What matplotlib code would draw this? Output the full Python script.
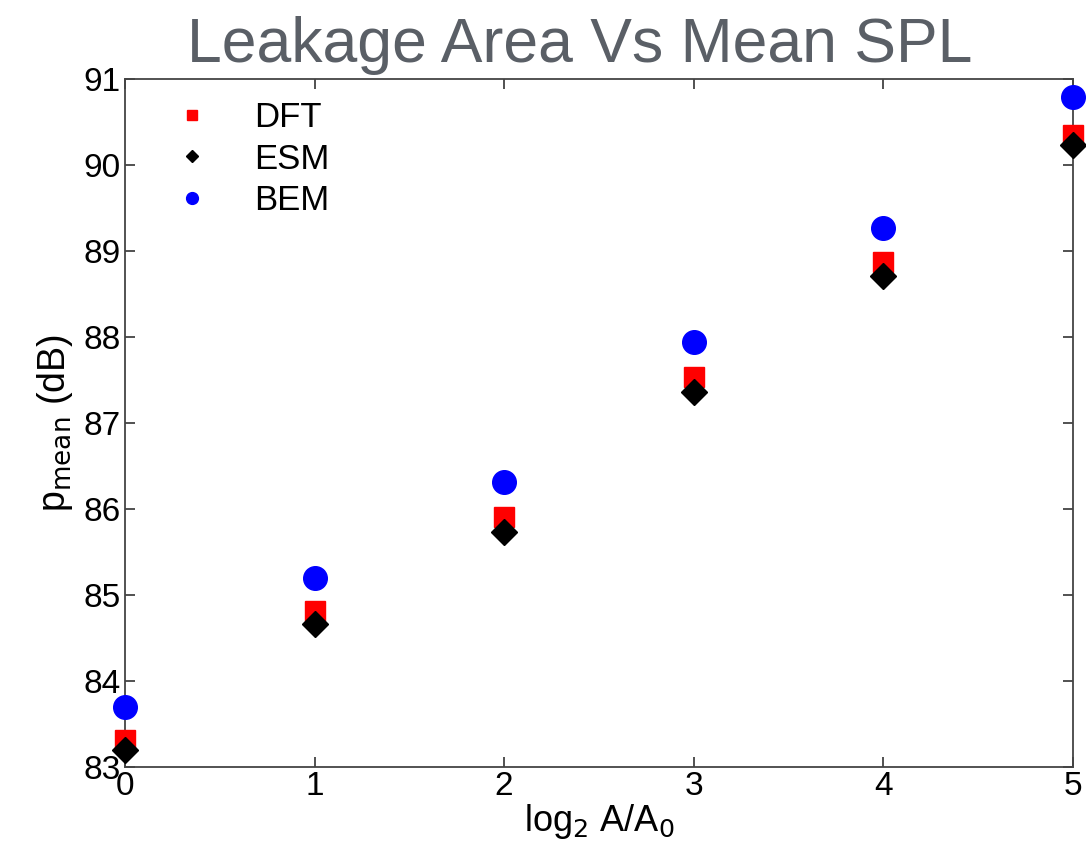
import matplotlib.pyplot as plt

plt.rcParams["font.family"] = ["Liberation Sans", "DejaVu Sans"]

x = [0, 1, 2, 3, 4, 5]
dft = [83.31, 84.81, 85.90, 87.53, 88.87, 90.35]
esm = [83.20, 84.66, 85.73, 87.36, 88.71, 90.23]
bem = [83.70, 85.20, 86.31, 87.94, 89.26, 90.79]

fig = plt.figure(figsize=(10.86, 8.55), dpi=100)
ax = fig.add_axes([0.115, 0.103, 0.873, 0.805])

ax.plot(x, dft, "s", color="red", ms=14, label="DFT", clip_on=False, zorder=3)
ax.plot(x, esm, "D", color="black", ms=13, label="ESM", clip_on=False, zorder=4)
ax.plot(x, bem, "o", color="blue", ms=17, label="BEM", clip_on=False, zorder=3)

ax.set_xlim(0, 5)
ax.set_ylim(83, 91)
ax.set_xticks(range(6))
ax.set_yticks(range(83, 92))
ax.tick_params(direction="in", top=True, right=True, labelsize=24, length=7,
               width=1.2, color="#333333", pad=3)
for s in ax.spines.values():
    s.set_color("#444444")
    s.set_linewidth(1.3)

ax.set_xlabel(r"log$_2$ A/A$_0$", fontsize=26, labelpad=0)
ax.set_ylabel(r"p$_{\mathrm{mean}}$ (dB)", fontsize=27, labelpad=6)
fig.text(0.534, 0.927, "Leakage Area Vs Mean SPL", fontsize=45,
         color="#5a5f66", ha="center", va="baseline")

ax.legend(loc="upper left", frameon=False, fontsize=25, markerscale=0.5,
          handletextpad=1.0, labelspacing=0.25, borderaxespad=0.5,
          handlelength=1.6, bbox_to_anchor=(0.008, 1.013))

fig.savefig("out.png", dpi=100)
